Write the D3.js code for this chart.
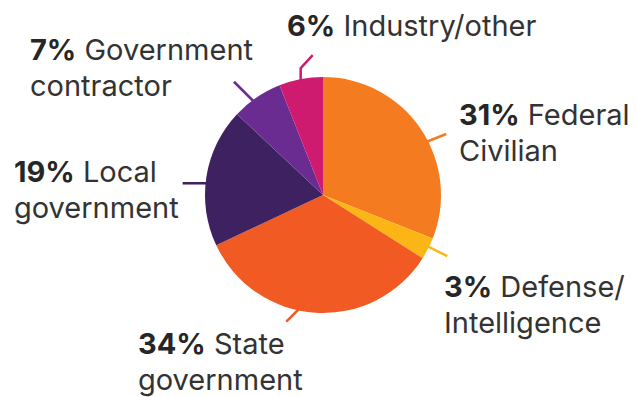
<!DOCTYPE html>
<html>
<head>
<meta charset="utf-8">
<script src="https://cdn.jsdelivr.net/npm/d3@7"></script>
<style>
  body { margin: 0; background: #fff; }
  text { font-family: Inter, "Noto Sans", sans-serif; }
</style>
</head>
<body>
<div class="canvas"></div>
<script>
// data
const categories = ['Federal Civilian', 'Defense/Intelligence', 'State government', 'Local government', 'Government contractor', 'Industry/other'];
const values = [31, 3, 34, 19, 7, 6];
const labelLine1 = ['Federal', 'Defense/', 'State', 'Local', 'Government', 'Industry/other'];
const labelLine2 = ['Civilian', 'Intelligence', 'government', 'government', 'contractor', ''];
const colors = ['#f47b20', '#fbb615', '#f15a22', '#3e2160', '#6a2c91', '#ce1b6f'];

const dims = {width: 636, height: 397};
const center = {x: 323, y: 195};
const radius = 118;

// label layout (angle in degrees where leader leaves the pie, then offsets)
const layout = [
  {angle: 62.8, pts: [[20, -8]], x: 459, y: 125},
  {angle: 116.1, pts: [[20, 10]], x: 444, y: 297},
  {angle: 191.8, pts: [[-13, 13]], x: 138, y: 354},
  {angle: 275.8, pts: [[-25, 0]], x: 14, y: 182},
  {angle: 323.5, pts: [[-20, -20]], x: 30, y: 60},
  {angle: 348.9, pts: [[0, -13], [12, -26]], x: 287, y: 36}
];

const svg = d3.select('.canvas')
.append('svg')
.attr('width', dims.width)
.attr('height', dims.height);

const graph = svg.append('g')
.attr('transform', `translate(${center.x}, ${center.y})`);

const pie = d3.pie().sort(null).value(d => d.value);
const arc = d3.arc().innerRadius(0).outerRadius(radius);
const color = d3.scaleOrdinal().domain(categories).range(colors);

const data = categories.map((c, i) => ({name: c, value: values[i], i}));

graph.selectAll('.slice')
.data(pie(data))
.enter()
.append('path')
.attr('class', 'slice')
.attr('fill', d => color(d.data.name))
.attr('d', arc);

// leader lines
graph.selectAll('.leader')
.data(data)
.enter()
.append('path')
.attr('class', 'leader')
.attr('fill', 'none')
.attr('stroke', d => color(d.name))
.attr('stroke-width', 2.5)
.attr('d', d => {
  const l = layout[d.i];
  const p0 = d3.pointRadial(l.angle * Math.PI / 180, radius - 2);
  const pts = [p0].concat(l.pts.map(o => [p0[0] + o[0], p0[1] + o[1]]));
  return d3.line()(pts);
});

// labels
const labels = svg.selectAll('.label')
.data(data)
.enter()
.append('text')
.attr('class', 'label')
.attr('fill', '#262626')
.attr('font-size', 29);

labels.append('tspan')
.attr('x', d => layout[d.i].x)
.attr('y', d => layout[d.i].y)
.attr('font-weight', 700)
.text(d => d.value + '%');

labels.append('tspan')
.attr('font-weight', 400)
.attr('fill', '#333')
.text(d => ' ' + labelLine1[d.i]);

labels.append('tspan')
.attr('x', d => layout[d.i].x)
.attr('y', d => layout[d.i].y + 36)
.attr('font-weight', 400)
.attr('fill', '#333')
.text(d => labelLine2[d.i]);
</script>
</body>
</html>
